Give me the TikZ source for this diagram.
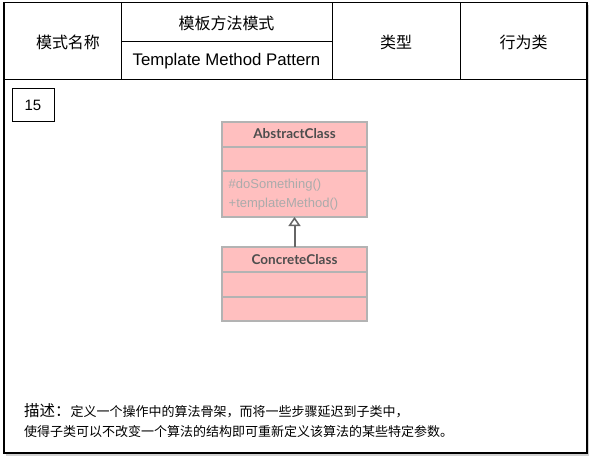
\documentclass[tikz,border=0pt]{standalone}
\usepackage{fontspec}
\setmainfont{Liberation Sans}
\newfontfamily\cjk{Noto Sans CJK SC}
\newfontfamily\umlfont{Lato}
\usetikzlibrary{arrows.meta}
\definecolor{umlfill}{HTML}{FFBFBF}
\definecolor{umlline}{HTML}{B3B3B3}
\definecolor{umltext}{HTML}{4D4D4D}
\definecolor{umlops}{HTML}{ABABAB}
\definecolor{arrowgray}{HTML}{666666}
\tikzset{
  frame/.style={draw=black, line width=1.2pt},
  grid/.style={draw=black, line width=1pt},
  hdr/.style={font=\cjk\fontsize{16}{19}\selectfont, inner sep=0pt},
  hdrlat/.style={font=\fontsize{16.8}{19}\selectfont, inner sep=0pt},
  comp/.style={draw=umlline, fill=umlfill, line width=2pt, minimum width=145pt, inner sep=0pt, outer sep=0pt},
  umlname/.style={font=\umlfont\bfseries\fontsize{13.5}{16}\selectfont, text=umltext, inner sep=0pt},
  umlops/.style={font=\fontsize{13}{19}\selectfont, text=umlops, align=left, inner sep=0pt},
  inherit/.style={draw=arrowgray, line width=2pt, -{Triangle[open, length=9pt, width=12pt, line width=1.5pt]}},
}
\begin{document}
\begin{tikzpicture}[x=1pt,y=-1pt]
\useasboundingbox (0,0) rectangle (590,459);
% shadow
\fill[black!18] (5.5,4.5) rectangle (589,455.5);
\fill[white] (4,2.5) rectangle (587,453);
\draw[frame] (4,2.5) rectangle (587,453);
% header grid
\draw[grid] (4,79) -- (587,79);
\draw[grid] (121,2.5) -- (121,79);
\draw[grid] (332,2.5) -- (332,79);
\draw[grid] (460,2.5) -- (460,79);
\draw[grid] (121,41.5) -- (332,41.5);
% header texts
\node[hdr] (mname) at (68,42) {模式名称};
\node[hdr] (cname) at (226.5,23) {模板方法模式};
\node[hdrlat] (ename) at (226.5,61) {Template Method Pattern};
\node[hdr] (tlabel) at (396,42) {类型};
\node[hdr] (tvalue) at (523.5,42) {行为类};
% number box
\node[draw=black, line width=1pt, minimum width=42pt, minimum height=33pt, inner sep=0pt, font=\fontsize{15}{18}\selectfont] (num) at (33,105) {15};
% UML
\node[comp, minimum height=25pt] (absname) at (294.5,134.5) {};
\node[umlname] (abstxt) at (294.5,134) {AbstractClass};
\node[comp, minimum height=24pt] (absattr) at (294.5,159) {};
\node[comp, minimum height=46pt] (absops) at (294.5,194) {};
\node[umlops, anchor=west] (opstxt) at (228.5,195) {\#doSomething()\\+templateMethod()};
\node[comp, minimum height=25pt] (conname) at (294.5,259.5) {};
\node[umlname] (contxt) at (294.5,259.5) {ConcreteClass};
\node[comp, minimum height=25pt] (conattr) at (294.5,284.5) {};
\node[comp, minimum height=24pt] (conops) at (294.5,309) {};
\draw[inherit] (conname.north) -- (absops.south);
% description
\node[anchor=west, inner sep=0pt, font=\cjk\fontsize{13}{16}\selectfont] (desc1) at (24,411) {{\fontsize{15.5}{18}\selectfont 描述：}定义一个操作中的算法骨架，而将一些步骤延迟到子类中，};
\node[anchor=west, inner sep=0pt, font=\cjk\fontsize{13}{16}\selectfont] (desc2) at (24,432) {使得子类可以不改变一个算法的结构即可重新定义该算法的某些特定参数。};
\end{tikzpicture}
\end{document}
